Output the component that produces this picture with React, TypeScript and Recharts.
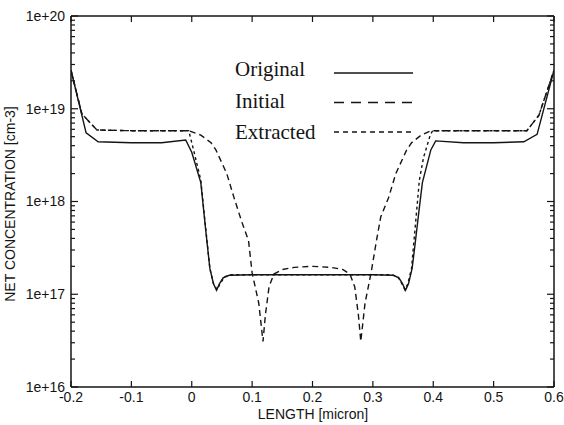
import React from 'react'
import { LineChart, Line, XAxis, YAxis, Legend, Label } from 'recharts'

// x positions (micron) and net concentration (cm-3)
const originalX = [-0.2, -0.175, -0.155, -0.1, -0.05, -0.01, 0.0, 0.015, 0.023, 0.03, 0.036, 0.041, 0.046, 0.052, 0.062, 0.1, 0.15, 0.2, 0.25, 0.3, 0.334, 0.343, 0.349, 0.354, 0.359, 0.365, 0.37, 0.376, 0.382, 0.396, 0.404, 0.45, 0.5, 0.55, 0.572, 0.6]
const originalY = [2.6e19, 5.5e18, 4.4e18, 4.3e18, 4.3e18, 4.6e18, 3.4e18, 1.6e18, 5e17, 1.9e17, 1.3e17, 1.1e17, 1.3e17, 1.5e17, 1.6e17, 1.62e17, 1.62e17, 1.62e17, 1.62e17, 1.62e17, 1.6e17, 1.5e17, 1.3e17, 1.1e17, 1.3e17, 1.9e17, 3.5e17, 7.6e17, 1.6e18, 3.6e18, 4.5e18, 4.3e18, 4.3e18, 4.4e18, 5.3e18, 2.6e19]

const initialX = [-0.2, -0.182, -0.157, -0.1, -0.05, -0.005, 0.015, 0.032, 0.04, 0.058, 0.07, 0.083, 0.094, 0.1, 0.111, 0.118, 0.122, 0.128, 0.136, 0.15, 0.17, 0.2, 0.23, 0.25, 0.262, 0.27, 0.276, 0.28, 0.287, 0.297, 0.306, 0.313, 0.326, 0.338, 0.356, 0.364, 0.38, 0.396, 0.45, 0.5, 0.555, 0.575, 0.6]
const initialY = [2.6e19, 8.8e18, 5.9e18, 5.8e18, 5.8e18, 5.8e18, 5.2e18, 4.3e18, 3.6e18, 2.0e18, 1.1e18, 6e17, 3.8e17, 1.7e17, 8e16, 3.1e16, 6e16, 1.2e17, 1.65e17, 1.85e17, 1.95e17, 2.0e17, 1.95e17, 1.85e17, 1.65e17, 1.2e17, 6e16, 3.1e16, 8e16, 1.7e17, 3.8e17, 6.8e17, 1.1e18, 2.0e18, 3.6e18, 4.3e18, 5.2e18, 5.8e18, 5.8e18, 5.8e18, 5.8e18, 8.5e18, 2.6e19]

const extractedX = [-0.2, -0.182, -0.157, -0.1, -0.05, -0.005, 0.003, 0.015, 0.023, 0.03, 0.036, 0.042, 0.047, 0.055, 0.065, 0.1, 0.15, 0.2, 0.25, 0.3, 0.331, 0.341, 0.348, 0.353, 0.358, 0.364, 0.37, 0.377, 0.384, 0.395, 0.399, 0.45, 0.5, 0.555, 0.575, 0.6]
const extractedY = [2.6e19, 8.8e18, 5.9e18, 5.8e18, 5.8e18, 5.8e18, 3.6e18, 1.7e18, 5.2e17, 1.9e17, 1.3e17, 1.12e17, 1.3e17, 1.55e17, 1.62e17, 1.62e17, 1.62e17, 1.62e17, 1.62e17, 1.62e17, 1.62e17, 1.55e17, 1.3e17, 1.12e17, 1.3e17, 1.9e17, 5.2e17, 1.7e18, 3.0e18, 5.2e18, 5.8e18, 5.8e18, 5.8e18, 5.8e18, 8.5e18, 2.6e19]

const seriesNames = ['Original', 'Initial', 'Extracted']
const xTicks = [-0.2, -0.1, 0, 0.1, 0.2, 0.3, 0.4, 0.5, 0.6]
const yMajor = [1e16, 1e17, 1e18, 1e19, 1e20]
const yTicks = [
  ...yMajor,
  ...yMajor.slice(0, -1).flatMap((d) => [2, 3, 4, 5, 6, 7, 8, 9].map((k) => k * d)),
].sort((a, b) => a - b)

const toRows = (xs: number[], ys: number[]) => xs.map((x, i) => ({ x, y: ys[i] }))

const ink = '#141414'
const sans = '"Liberation Sans", Arial, sans-serif'
const serif = '"Liberation Serif", "Times New Roman", serif'
const dashes = ['', '6 4', '3 3']
const legendDashes = ['', '10 7', '5 4']

const isMajor = (v: number) => {
  const l = Math.log10(v)
  return Math.abs(l - Math.round(l)) < 1e-6
}

function LeftTick(props: any) {
  const { x, y, payload } = props
  const axisX = x + 6
  const major = isMajor(payload.value)
  return (
    <g>
      <line x1={axisX} x2={axisX + (major ? 7 : 4)} y1={y} y2={y} stroke={ink} strokeWidth={1.2} />
      {major && (
        <text x={x} y={y} dy="0.35em" textAnchor="end" fontSize={14} fontFamily={sans} fill={ink}>
          {'1e+' + Math.round(Math.log10(payload.value))}
        </text>
      )}
    </g>
  )
}

function RightTick(props: any) {
  const { x, y, payload } = props
  const major = isMajor(payload.value)
  return <line x1={x} x2={x - (major ? 7 : 4)} y1={y} y2={y} stroke={ink} strokeWidth={1.2} />
}

function BottomTick(props: any) {
  const { x, y, payload } = props
  const axisY = y - 5
  return (
    <g>
      <line x1={x} x2={x} y1={axisY} y2={axisY - 6} stroke={ink} strokeWidth={1.2} />
      <text x={x} y={y} dy="0.71em" textAnchor="middle" fontSize={14} fontFamily={sans} fill={ink}>
        {String(Math.round(payload.value * 10) / 10)}
      </text>
    </g>
  )
}

function TopTick(props: any) {
  const { x, y } = props
  return <line x1={x} x2={x} y1={y} y2={y + 6} stroke={ink} strokeWidth={1.2} />
}

function LegendBox() {
  return (
    <svg width={564} height={160} style={{ position: 'absolute', left: 0, top: 0, overflow: 'visible' }}>
      {seriesNames.map((name, i) => (
        <g key={name}>
          <text x={235} y={76 + i * 31.5} fontSize={21} fontFamily={serif} fill={ink}>
            {name}
          </text>
          <line
            x1={334}
            x2={413}
            y1={73 + i * 29.5}
            y2={73 + i * 29.5}
            stroke={ink}
            strokeWidth={1.4}
            strokeDasharray={legendDashes[i] || undefined}
          />
        </g>
      ))}
    </svg>
  )
}

export default function App() {
  const sets = [toRows(originalX, originalY), toRows(initialX, initialY), toRows(extractedX, extractedY)]
  return (
    <div style={{ position: 'absolute', left: 0, top: 0, background: '#fff' }}>
      <LineChart width={564} height={425} margin={{ top: 15, right: 9, bottom: 0, left: 0 }}>
        <XAxis
          type="number"
          dataKey="x"
          domain={[-0.2, 0.6]}
          ticks={xTicks}
          interval={0}
          height={38}
          tickSize={0}
          tickMargin={5}
          tickLine={false}
          axisLine={{ stroke: ink, strokeWidth: 1.5 }}
          tick={<BottomTick />}
          allowDataOverflow
        >
          <Label
            content={() => (
              <text x={313} y={419} textAnchor="middle" fontSize={14} fontFamily={sans} fill={ink}>
                LENGTH [micron]
              </text>
            )}
          />
        </XAxis>
        <XAxis
          xAxisId="top"
          orientation="top"
          type="number"
          dataKey="x"
          domain={[-0.2, 0.6]}
          ticks={xTicks}
          interval={0}
          height={1}
          tickSize={0}
          tickMargin={0}
          tickLine={false}
          axisLine={{ stroke: ink, strokeWidth: 1.5 }}
          tick={<TopTick />}
          allowDataOverflow
        />
        <YAxis
          scale="log"
          type="number"
          domain={[1e16, 1e20]}
          ticks={yTicks}
          interval={0}
          width={71}
          tickSize={0}
          tickMargin={6}
          tickLine={false}
          axisLine={{ stroke: ink, strokeWidth: 1.5 }}
          tick={<LeftTick />}
          allowDataOverflow
        >
          <Label
            content={() => (
              <text
                x={11}
                y={204}
                transform="rotate(-90 11 204)"
                textAnchor="middle"
                dominantBaseline="middle"
                fontSize={14}
                fontFamily={sans}
                fill={ink}
              >
                NET CONCENTRATION [cm-3]
              </text>
            )}
          />
        </YAxis>
        <YAxis
          yAxisId="right"
          orientation="right"
          scale="log"
          type="number"
          domain={[1e16, 1e20]}
          ticks={yTicks}
          interval={0}
          width={1}
          tickSize={0}
          tickMargin={0}
          tickLine={false}
          axisLine={{ stroke: ink, strokeWidth: 1.5 }}
          tick={<RightTick />}
          allowDataOverflow
        />
        <Legend
          content={<LegendBox />}
          wrapperStyle={{ position: 'absolute', left: 0, top: 0, width: 0, height: 0 }}
        />
        {sets.map((rows, i) => (
          <Line
            key={seriesNames[i]}
            name={seriesNames[i]}
            data={rows}
            dataKey="y"
            type="linear"
            stroke={ink}
            strokeWidth={1.4}
            strokeDasharray={dashes[i] || undefined}
            dot={false}
            activeDot={false}
            isAnimationActive={false}
          />
        ))}
      </LineChart>
    </div>
  )
}
